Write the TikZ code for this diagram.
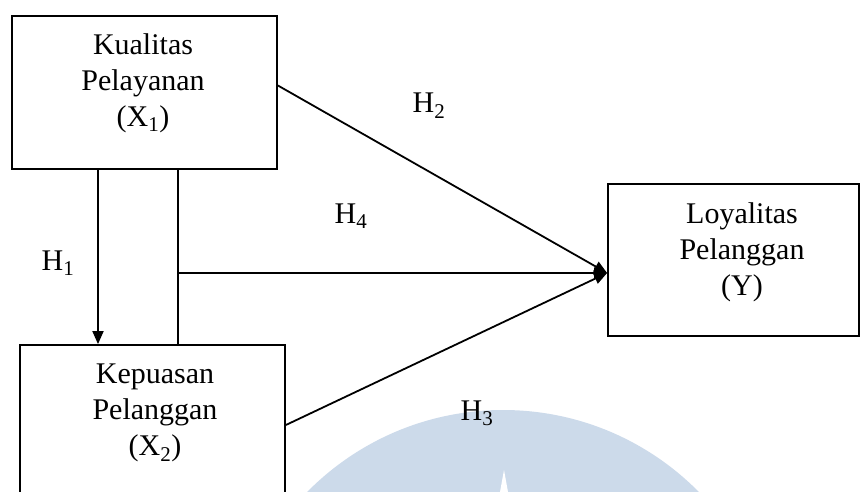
\documentclass[tikz,border=0pt]{standalone}
\usepackage{fontspec}
\setmainfont{Liberation Serif}
\usetikzlibrary{arrows.meta}
\definecolor{wmblue}{RGB}{204,218,234}
\tikzset{
  box/.style={draw, line width=1.8pt, rectangle, inner sep=0pt},
  lbl/.style={font=\fontsize{30}{36}\selectfont, align=center, inner sep=0pt, anchor=north},
  hyp/.style={font=\fontsize{30}{36}\selectfont, inner sep=0pt, anchor=base},
  link/.style={line width=1.8pt},
  arr/.style={line width=1.8pt, -{Triangle[length=13pt,width=11pt]}}
}
\begin{document}
\begin{tikzpicture}[x=1pt,y=-1pt]
\useasboundingbox (0,0) rectangle (862,492);
\clip (0,0) rectangle (862,492);

% faint round emblem behind the lower part
\fill[wmblue] (503,685) circle (275);
\fill[white] (504,470) -- (500,492) -- (508,492) -- cycle;

% variable boxes
\node[box, minimum width=265pt, minimum height=153pt] (k1) at (144.5,92.5) {};
\node[box, minimum width=265pt, minimum height=175pt] (k2) at (152.5,432.5) {};
\node[box, minimum width=251pt, minimum height=152pt] (k3) at (733.5,260) {};

\node[lbl] (t1) at (143,33) {Kualitas\\Pelayanan\\(X\textsubscript{1})};
\node[lbl] (t2) at (155,364) {Kepuasan\\Pelanggan\\(X\textsubscript{2})};
\node[lbl] (t3) at (742,202) {Loyalitas\\Pelanggan\\(Y)};

% connector helpers
\coordinate (c1) at (98,0);
\coordinate (c2) at (178,273);
\coordinate (tip) at ([yshift=-13pt]k3.west);

% H1: X1 -> X2
\draw[arr] (k1.south -| c1) -- (k2.north -| c1);
% H4: joint path of X1 and X2 into Y
\draw[link] (k1.south -| c2) -- (k2.north -| c2);
\draw[arr] (c2) -- (tip);
% H2: X1 -> Y
\draw[arr] ([yshift=7pt]k1.east) -- (tip);
% H3: X2 -> Y
\draw[arr] ([yshift=7.5pt]k2.east) -- (tip);

% hypothesis labels
\node[hyp] (h1) at (58,270) {H\textsubscript{1}};
\node[hyp] (h2) at (429,113) {H\textsubscript{2}};
\node[hyp] (h4) at (351,223) {H\textsubscript{4}};
\node[hyp] (h3) at (477,420) {H\textsubscript{3}};
\end{tikzpicture}
\end{document}
